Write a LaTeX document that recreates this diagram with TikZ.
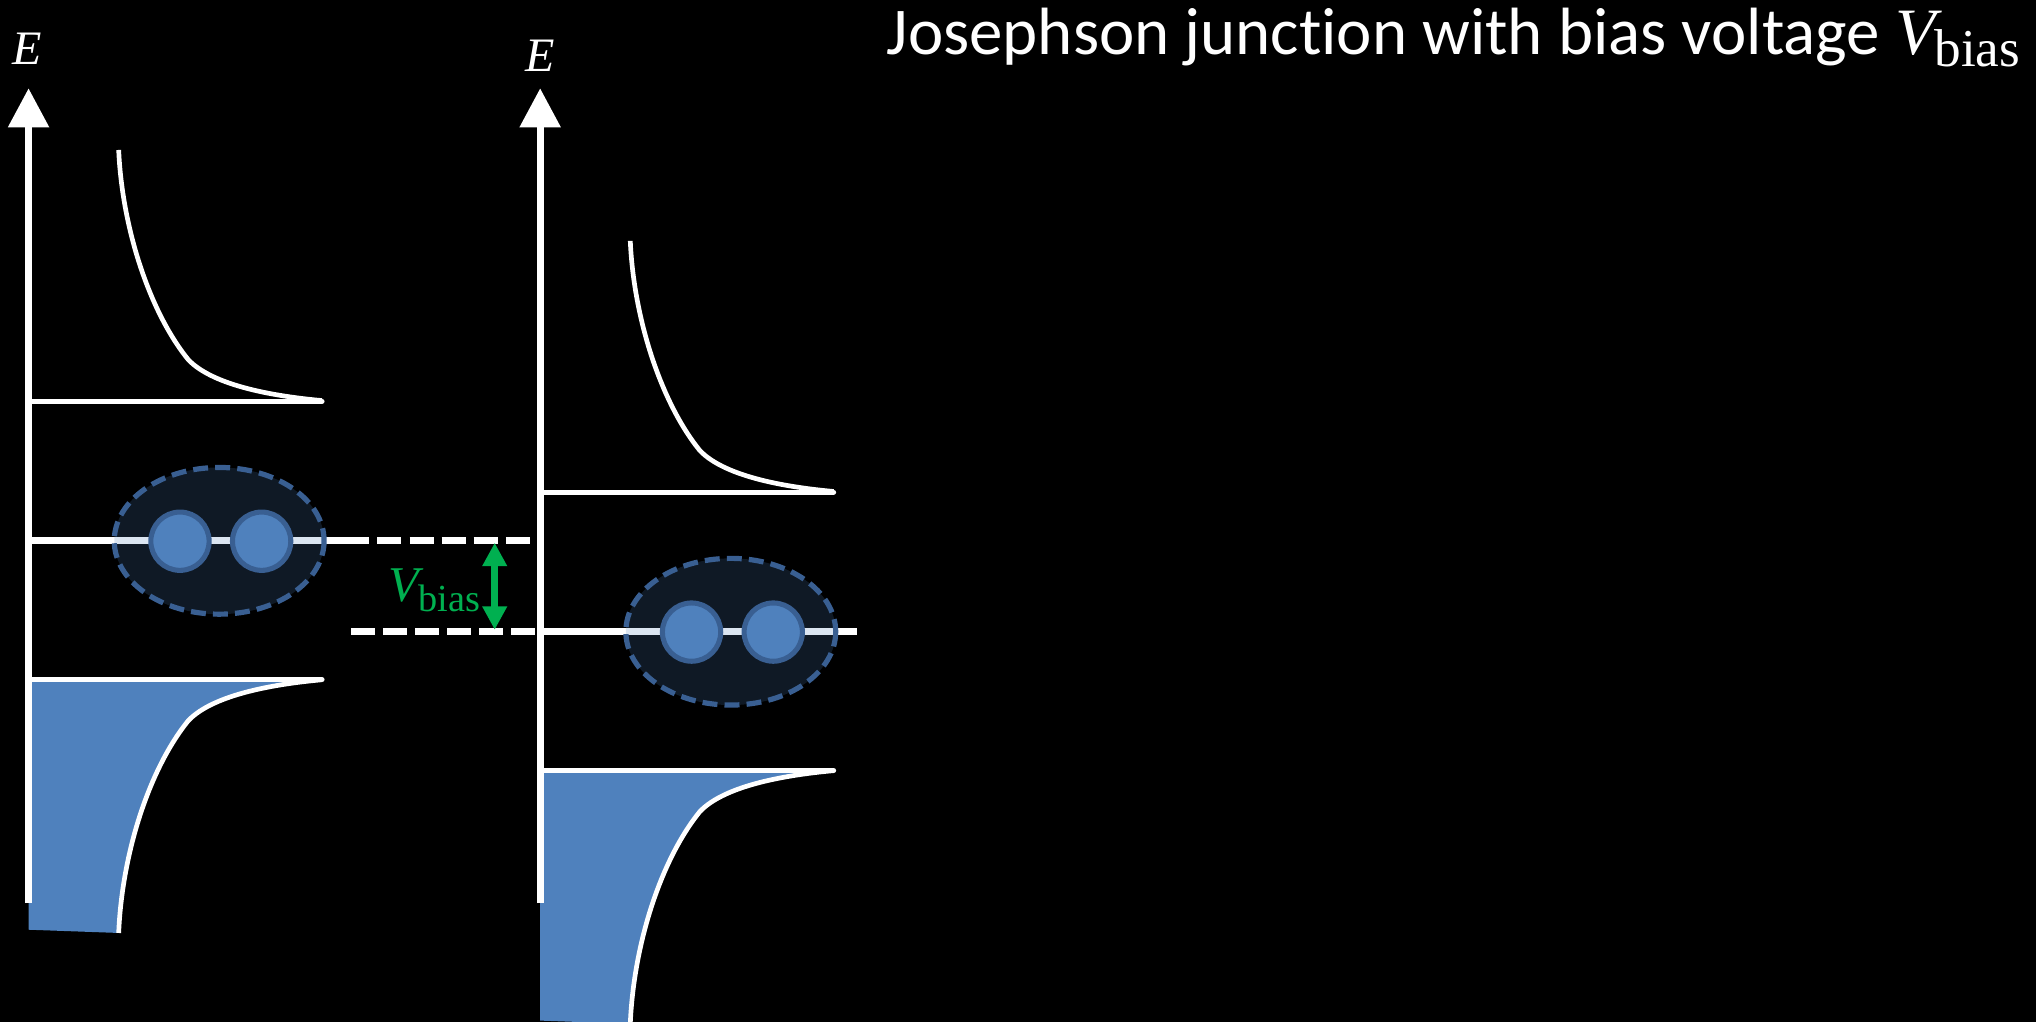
\documentclass[tikz,border=0pt]{standalone}
\usepackage{fontspec}
\usetikzlibrary{arrows.meta}
\newfontfamily\calibri[Ligatures=NoCommon]{Carlito}
\newfontfamily\mathserif{Liberation Serif}
\definecolor{bandblue}{HTML}{4F81BD}
\definecolor{pairedge}{HTML}{395F92}
\definecolor{vgreen}{HTML}{00B050}
% V with an upright "bias" subscript: #1 main size, #2 subscript size, #3 drop
\newcommand\Vb[3]{{\mathserif\itshape\fontsize{#1}{#1}\selectfont V}\kern-0.02em\raisebox{-#3pt}{\mathserif\upshape\fontsize{#2}{#2}\selectfont bias}}
\tikzset{
  axisline/.style={white, line width=5.3pt, -{Triangle[length=30pt,width=30.4pt]}},
  gapline/.style={white, line width=3.9pt, line cap=round},
  dosline/.style={white, line width=3.6pt},
  fermiline/.style={white, line width=5.5pt},
  fermidash/.style={white, line width=5.5pt, dash pattern=on 18.5pt off 6.2pt},
  pairblob/.style={fill=bandblue, fill opacity=0.2, draw=pairedge, draw opacity=1, line width=4pt, dash pattern=on 11.5pt off 5.5pt},
  electron/.style={circle, fill=bandblue, draw=pairedge, line width=3.9pt, minimum size=44.9pt, inner sep=0pt},
  biasarrow/.style={vgreen, line width=5pt, {Triangle[length=18pt,width=18pt]}-{Triangle[length=18pt,width=18pt]}},
  axislabel/.style={anchor=base, text=white, inner sep=0pt, font=\mathserif\itshape\fontsize{37}{40}\selectfont},
}
\begin{document}
\begin{tikzpicture}[x=1pt,y=-1pt]
\fill[black] (0,0) rectangle (1568,787);
\useasboundingbox (0,0) rectangle (1568,787);

% two superconductor energy diagrams; the right one is lowered by the bias
\foreach \dx/\dy/\s in {0/0/L, 394/70/R}{
  \begin{scope}[shift={(\dx,\dy)}]
    % occupied states below the gap
    \fill[bandblue] (22,523.5) -- (248,523.5)
      .. controls (215,526.5) and (165,534) .. (145,555)
      .. controls (115,592) and (94,657) .. (91.4,718.5)
      -- (22,716) -- cycle;
    % density of states above and below the gap
    \draw[dosline] (91.4,115.5)
      .. controls (94,175) and (115,240) .. (145,277)
      .. controls (165,298) and (215,305.5) .. (248,308.5);
    \draw[dosline] (248,523.5)
      .. controls (215,526.5) and (165,534) .. (145,555)
      .. controls (115,592) and (94,657) .. (91.4,718.5);
    \draw[gapline] (22,309) -- (248,309);
    \draw[gapline] (22,523.5) -- (248,523.5);
    % Fermi level
    \draw[fermiline] (22,416.5) -- (266,416.5);
    % Cooper pair
    \draw[pairblob] (168.8,416.5) ellipse [x radius=80.8, y radius=56.5];
    \node[electron] (e1\s) at (138.6,416.8) {};
    \node[electron] (e2\s) at (201.5,416.8) {};
  \end{scope}
  % energy axis
  \draw[axisline] (22+\dx,695.6) -- (22+\dx,68);
}

% Fermi levels carried over between the two sides
\draw[fermidash] (266,416.5) -- (409,416.5);
\draw[fermidash] (270.4,486.5) -- (412,486.5);

% bias voltage
\coordinate (bt) at (381,418);
\coordinate (bb) at (381,485);
\draw[biasarrow] (bt) -- (bb);
\node[anchor=base east, text=vgreen, inner sep=0pt] (vlabel) at (370,463) {\Vb{38.5}{29.5}{8}};

% axis labels
\node[axislabel] (EL) at (21,50) {E};
\node[axislabel] (ER) at (416,54.7) {E};

% title
\node[anchor=base east, text=white, inner sep=0pt, font=\calibri\fontsize{51.5}{60}\selectfont] (title) at (1556,42) {Josephson junction with bias voltage \Vb{51}{41}{9}};
\end{tikzpicture}
\end{document}
